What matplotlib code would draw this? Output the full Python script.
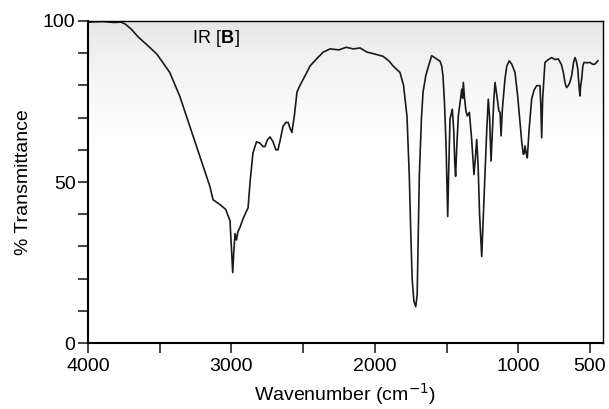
import matplotlib.pyplot as plt
import numpy as np

# IR spectrum (wavenumber cm^-1, % transmittance)
wavenumber = [4000, 3900, 3820, 3770, 3740, 3700, 3650, 3600, 3520, 3430, 3360, 3290,
              3220, 3150, 3128, 3080, 3040, 3010, 2998, 2991, 2984, 2975, 2965, 2955,
              2940, 2920, 2905, 2884, 2870, 2850, 2825, 2800, 2780, 2766, 2750, 2731,
              2710, 2690, 2675, 2660, 2640, 2620, 2605, 2590, 2578, 2560, 2543, 2522,
              2480, 2452, 2400, 2360, 2312, 2250, 2200, 2150, 2103, 2055, 2000, 1943,
              1900, 1873, 1825, 1800, 1776, 1760, 1750, 1740, 1728, 1715, 1705, 1699,
              1690, 1675, 1664, 1645, 1629, 1604, 1580, 1546, 1534, 1525, 1515, 1504,
              1497, 1492, 1486, 1476, 1460, 1450, 1443, 1437, 1430, 1418, 1406, 1394,
              1388, 1383, 1375, 1365, 1355, 1341, 1325, 1309, 1300, 1290, 1280, 1270,
              1255, 1245, 1232, 1220, 1209, 1200, 1190, 1180, 1170, 1162, 1150, 1135,
              1127, 1120, 1111, 1093, 1080, 1063, 1045, 1023, 1005, 988, 975, 965,
              958, 953, 945, 937, 925, 907, 890, 872, 849, 843, 837, 830,
              814, 790, 767, 745, 721, 700, 686, 673, 663, 650, 640, 628,
              615, 605, 595, 585, 575, 570, 565, 558, 550, 542, 520, 500,
              480, 465, 445]
transmittance = [99.6, 99.8, 99.5, 99.6, 99.0, 97.5, 95.0, 93.0, 89.7, 84.0, 76.6, 67.3,
                 58.0, 48.6, 44.5, 43.0, 41.5, 38.0, 28.0, 21.9, 28.0, 34.0, 32.0, 34.5,
                 36.0, 38.5, 40.0, 42.0, 50.0, 59.0, 62.5, 62.0, 61.0, 61.0, 63.0, 64.0,
                 62.5, 60.0, 60.0, 63.0, 67.3, 68.5, 68.5, 66.5, 65.4, 71.0, 77.9, 80.0,
                 83.5, 86.0, 88.5, 90.3, 91.3, 91.0, 91.8, 91.3, 91.6, 90.3, 89.7, 89.0,
                 87.5, 86.0, 84.0, 80.0, 70.4, 52.0, 35.0, 20.0, 13.0, 11.3, 15.0, 30.0,
                 52.0, 70.0, 77.9, 83.0, 85.5, 89.2, 88.5, 87.5, 86.0, 82.9, 75.0, 62.0,
                 48.0, 39.3, 52.0, 69.5, 72.6, 66.0, 56.0, 51.8, 60.0, 70.5, 74.7, 78.8,
                 76.0, 80.9, 76.0, 72.0, 70.5, 71.6, 63.2, 52.3, 57.0, 63.2, 55.0, 40.0,
                 26.9, 38.0, 53.0, 66.0, 75.7, 70.0, 56.5, 66.0, 76.0, 80.9, 77.0, 72.0,
                 71.6, 64.3, 72.6, 81.9, 86.0, 87.6, 86.5, 84.0, 77.0, 68.4, 62.0, 58.6,
                 59.0, 61.2, 59.0, 57.5, 66.0, 75.7, 78.5, 79.9, 79.9, 74.0, 63.7, 76.0,
                 87.1, 88.0, 88.6, 88.0, 88.2, 86.5, 84.0, 80.5, 79.3, 80.0, 81.0, 83.0,
                 87.0, 88.6, 87.5, 85.0, 79.0, 76.7, 80.0, 81.9, 86.0, 87.1, 87.0, 87.1,
                 86.5, 86.6, 87.6]

x_ticks = [4000, 3500, 3000, 2500, 2000, 1500, 1000, 500]
x_labels = ['4000', '', '3000', '', '2000', '', '1000', '500']
y_ticks = [0, 10, 20, 30, 40, 50, 60, 70, 80, 90, 100]
y_labels = ['0', '', '', '', '', '50', '', '', '', '', '100']

plt.rcParams['font.family'] = ['Liberation Sans', 'DejaVu Sans']

fig = plt.figure(figsize=(6.09, 4.09), dpi=100)
ax = fig.add_axes([0.1445, 0.161, 0.8455, 0.788])

# light grey shading at the top of the chart paper
shade = np.linspace(0, 1, 200).reshape(-1, 1)
shade = np.clip((shade - 0.6) / 0.4, 0, 1) ** 1.3
ax.imshow(shade, extent=(4000, 410, 0, 100), origin='lower', aspect='auto',
          cmap='Greys', vmin=0, vmax=5.5, zorder=0)

ax.plot(wavenumber, transmittance, color='#1a1a1a', lw=1.2, zorder=2)

ax.set_xlim(4000, 410)
ax.set_ylim(0, 100)
ax.set_xticks(x_ticks)
ax.set_xticklabels(x_labels)
ax.set_yticks(y_ticks)
ax.set_yticklabels(y_labels)
ax.tick_params(direction='out', length=7, width=1.2, labelsize=14, color='#222')
ax.tick_params(axis='x', pad=4)
ax.tick_params(axis='y', pad=2)

for side in ['left', 'bottom']:
    ax.spines[side].set_linewidth(1.5)
for side in ['top', 'right']:
    ax.spines[side].set_linewidth(1.0)

ax.set_xlabel('Wavenumber (cm$^{-1}$)', fontsize=14, labelpad=4)
ax.set_ylabel('% Transmittance', fontsize=14, labelpad=8)

ax.text(3075, 94.5, 'IR [', fontsize=13, ha='right', va='center')
ax.text(3075, 94.5, 'B', fontsize=13, fontweight='bold', ha='left', va='center')
ax.text(2980, 94.5, ']', fontsize=13, ha='left', va='center')

fig.savefig('out.png', dpi=100)
